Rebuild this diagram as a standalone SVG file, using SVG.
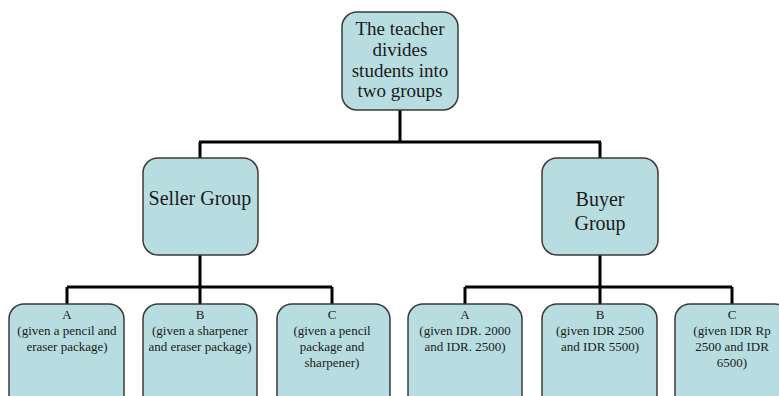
<svg xmlns="http://www.w3.org/2000/svg" width="779" height="396" viewBox="0 0 779 396">
<style>
.box{fill:#b7dde1;stroke:#3a3a3a;stroke-width:1.5}
.t{font-family:"Liberation Serif","Times New Roman",serif;fill:#1a1a1a;text-anchor:middle}
.big{font-size:19px}
.mid{font-size:20px}
.sm{font-size:13px}
.ln{fill:none;stroke:#000;stroke-width:3}
</style>
<rect width="779" height="396" fill="#fff"/>
<g id="connectors">
<path class="ln" d="M400 110V142M199 142H601M200 142V158M600 142V158"/>
<path class="ln" d="M200 255V287M67 287H332M67 287V304M200 287V304M332 287V304"/>
<path class="ln" d="M600 255V287M465 287H732M465 287V304M600 287V304M732 287V304"/>
</g>
<g id="root">
<rect class="box" x="342" y="12" width="116" height="98" rx="15"/>
<text class="t big" x="400" y="35">The teacher</text>
<text class="t big" x="400" y="56">divides</text>
<text class="t big" x="400" y="77">students into</text>
<text class="t big" x="400" y="97">two groups</text>
</g>
<g id="seller">
<rect class="box" x="143" y="158" width="115" height="97" rx="15"/>
<text class="t mid" x="200" y="205">Seller Group</text>
</g>
<g id="buyer">
<rect class="box" x="542" y="158" width="116" height="97" rx="15"/>
<text class="t mid" x="600" y="206">Buyer</text>
<text class="t mid" x="600" y="230">Group</text>
</g>
<g id="sellerA">
<rect class="box" x="9" y="304" width="115" height="110" rx="15"/>
<text class="t sm" x="67" y="319">A</text>
<text class="t sm" x="67" y="335">(given a pencil and</text>
<text class="t sm" x="67" y="351">eraser package)</text>
</g>
<g id="sellerB">
<rect class="box" x="143" y="304" width="114" height="110" rx="15"/>
<text class="t sm" x="200" y="319">B</text>
<text class="t sm" x="200" y="335">(given a sharpener</text>
<text class="t sm" x="200" y="351">and eraser package)</text>
</g>
<g id="sellerC">
<rect class="box" x="277" y="304" width="113" height="110" rx="15"/>
<text class="t sm" x="332" y="319">C</text>
<text class="t sm" x="332" y="335">(given a pencil</text>
<text class="t sm" x="332" y="351">package and</text>
<text class="t sm" x="332" y="367">sharpener)</text>
</g>
<g id="buyerA">
<rect class="box" x="408" y="304" width="114" height="110" rx="15"/>
<text class="t sm" x="465" y="319">A</text>
<text class="t sm" x="465" y="335">(given IDR. 2000</text>
<text class="t sm" x="465" y="351">and IDR. 2500)</text>
</g>
<g id="buyerB">
<rect class="box" x="542" y="304" width="115" height="110" rx="15"/>
<text class="t sm" x="600" y="319">B</text>
<text class="t sm" x="600" y="335">(given IDR 2500</text>
<text class="t sm" x="600" y="351">and IDR 5500)</text>
</g>
<g id="buyerC">
<rect class="box" x="675" y="304" width="115" height="110" rx="15"/>
<text class="t sm" x="732" y="319">C</text>
<text class="t sm" x="732" y="335">(given IDR Rp</text>
<text class="t sm" x="732" y="351">2500 and IDR</text>
<text class="t sm" x="732" y="367">6500)</text>
</g>
</svg>
